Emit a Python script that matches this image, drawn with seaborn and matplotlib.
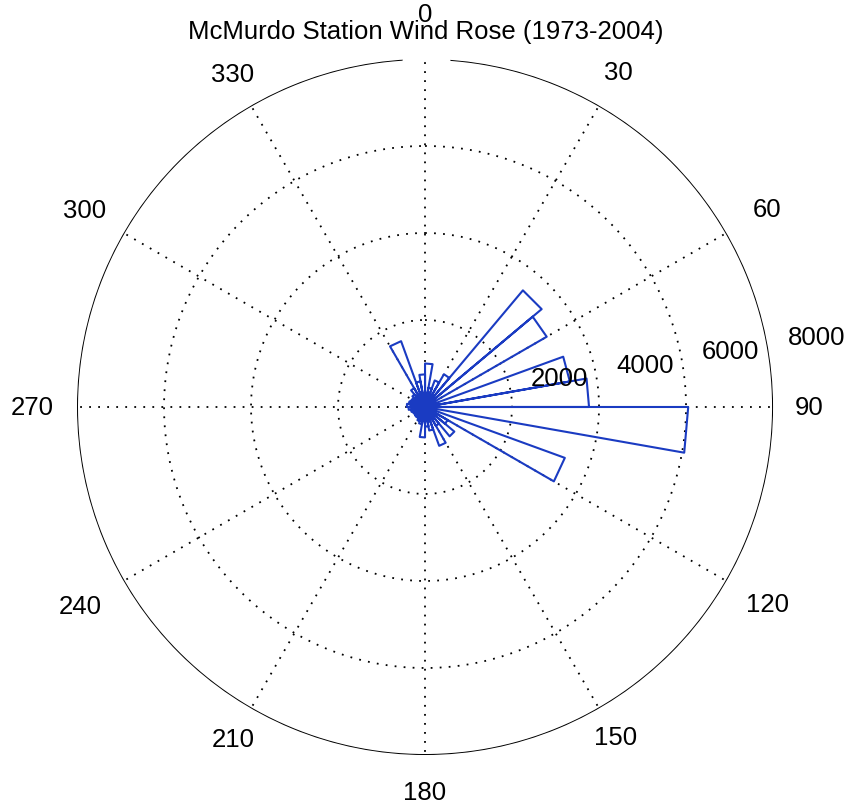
import numpy as np
import pandas as pd
import matplotlib.pyplot as plt
import seaborn as sns

# rose data, 10 degree bins clockwise from north
edges = np.arange(0, 370, 10)
counts = [1000, 450, 650, 870, 3500, 3230, 150, 3380, 3770, 6050,
          200, 3420, 600, 880, 500, 950, 550, 450, 700, 400,
          350, 300, 300, 280, 300, 330, 380, 420, 380, 350,
          330, 380, 500, 1610, 600, 750]
rings = [2000, 4000, 6000]
ring_labels = ['2000', '4000', '6000', '8000']
rmax = 8000
spokes = np.arange(0, 360, 30)
# label distance from the centre, as a fraction of rmax
spoke_pad = [1.13, 1.11, 1.135, 1.105, 1.135, 1.095,
             1.105, 1.10, 1.145, 1.13, 1.13, 1.105]

sns.set_style('white')
plt.rcParams['font.family'] = ['Liberation Sans', 'DejaVu Sans']
plt.rcParams['text.color'] = 'black'

# matlab style rose outline: centre -> edge1 -> edge2 -> centre
th, rr = [], []
for i, c in enumerate(counts):
    th += [0, np.deg2rad(edges[i]), np.deg2rad(edges[i + 1]), 0]
    rr += [0, c, c, 0]
df = pd.DataFrame({'theta': th, 'r': rr})

fig = plt.figure(figsize=(8.51, 8.04), dpi=100)
ax = fig.add_axes([0.0905, 0.0597, 0.8179, 0.8657], projection='polar')
ax.set_theta_zero_location('N')
ax.set_theta_direction(-1)
ax.grid(False)
ax.set_xticks([])
ax.set_yticks([])
ax.spines['polar'].set_visible(False)

t = np.linspace(0, 2 * np.pi, 721)
for r in rings:
    ax.plot(t, np.full_like(t, r), color='k', ls=(0, (1, 4)), lw=1.3)
for s in spokes:
    ax.plot([np.deg2rad(s)] * 2, [0, rmax], color='k', ls=(0, (1, 4)), lw=1.3)

# outer circle (small gap at the top like the original)
t2 = np.deg2rad(np.linspace(4.3, 356.2, 700))
ax.plot(t2, np.full_like(t2, rmax), color='k', lw=1.4)

sns.lineplot(data=df, x='theta', y='r', sort=False, estimator=None,
             color='#1a3bc2', lw=1.5, ax=ax)
ax.set_xlabel('')
ax.set_ylabel('')
ax.set_ylim(0, rmax)

for s, pad in zip(spokes, spoke_pad):
    ax.text(np.deg2rad(s), rmax * pad, str(s), ha='center', va='center',
            fontsize=18.5, color='black', clip_on=False)
for r, lab in zip(rings + [rmax], ring_labels):
    ax.text(np.deg2rad(81), r + 450, lab, ha='left', va='bottom',
            fontsize=18.5, color='black', clip_on=False)

fig.text(0.5, 1 - 32 / 804, 'McMurdo Station Wind Rose (1973-2004)',
         ha='center', va='center', fontsize=18.5, color='black')

fig.savefig('out.png', dpi=100)
